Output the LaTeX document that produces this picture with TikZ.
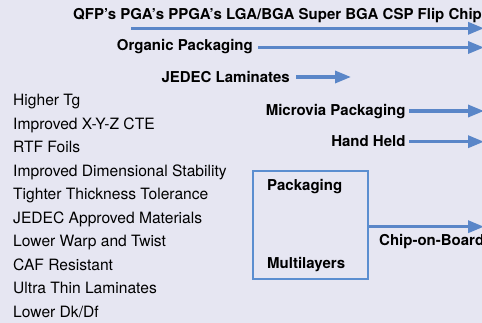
\documentclass[tikz,border=0pt]{standalone}
\usepackage{fontspec}
\setmainfont{TeX Gyre Heros}
\usetikzlibrary{arrows.meta}
\definecolor{bgc}{HTML}{E6E6F2}
\definecolor{arrc}{HTML}{5A86C8}
\definecolor{boxc}{HTML}{5B8ED0}
\tikzset{
  bl/.style={inner sep=0pt, font=\fontsize{15}{16}\selectfont\bfseries},
  li/.style={inner sep=0pt, anchor=base west, font=\fontsize{15.6}{18}\selectfont},
  arr/.style={draw=arrc, line width=3.3pt, -{Triangle[length=16pt,width=12pt]}},
  pbox/.style={draw=boxc, line width=1.2pt, inner sep=0pt, minimum width=115pt, minimum height=108pt}
}
\begin{document}
\begin{tikzpicture}[x=1pt,y=-1pt]
\fill[bgc] (0,0) rectangle (482,323);
\useasboundingbox (0,0) rectangle (482,323);
% top arrows
\node[bl, anchor=base west] (qfp) at (73,20) {QFP’s PGA’s PPGA’s LGA/BGA Super BGA CSP Flip Chip};
\coordinate (a1s) at (131,28.3);
\coordinate (a1e) at (484,28.3);
\draw[arr] (a1s) -- (a1e);
\node[bl, anchor=base east] (org) at (253,50.5) {Organic Packaging};
\coordinate (a2s) at (258,47.5);
\coordinate (a2e) at (484,47.5);
\draw[arr] (a2s) -- (a2e);
\node[bl, anchor=base east] (jed) at (290,82.5) {JEDEC Laminates};
\coordinate (a3s) at (296,77);
\coordinate (a3e) at (351,77);
\draw[arr] (a3s) -- (a3e);
\node[bl, anchor=base east] (mic) at (405.7,115.7) {Microvia Packaging};
\coordinate (a4s) at (409,111);
\coordinate (a4e) at (484,111);
\draw[arr] (a4s) -- (a4e);
\node[bl, anchor=base east] (hand) at (405.7,146.7) {Hand Held};
\coordinate (a5s) at (409,141.7);
\coordinate (a5e) at (484,141.7);
\draw[arr] (a5s) -- (a5e);
% box
\node[pbox] (box) at (310.5,225) {};
\node[bl, anchor=base west] (pk) at (267,191) {Packaging};
\node[bl, anchor=base west] (ml) at (267,269) {Multilayers};
\coordinate (a6e) at (484,226.7);
\draw[arr] (box.east |- a6e) -- (a6e);
\node[bl, anchor=base west] (cob) at (379,246) {Chip-on-Board};
% list
\node[li] (l1) at (13,105.6) {Higher Tg};
\node[li] (l2) at (13,129.1) {Improved X-Y-Z CTE};
\node[li] (l3) at (13,152.6) {RTF Foils};
\node[li] (l4) at (13,176.1) {Improved Dimensional Stability};
\node[li] (l5) at (13,199.6) {Tighter Thickness Tolerance};
\node[li] (l6) at (13,223.1) {JEDEC Approved Materials};
\node[li] (l7) at (13,246.6) {Lower Warp and Twist};
\node[li] (l8) at (13,270.1) {CAF Resistant};
\node[li] (l9) at (13,293.6) {Ultra Thin Laminates};
\node[li] (l10) at (13,317.1) {Lower Dk/Df};
\end{tikzpicture}
\end{document}
